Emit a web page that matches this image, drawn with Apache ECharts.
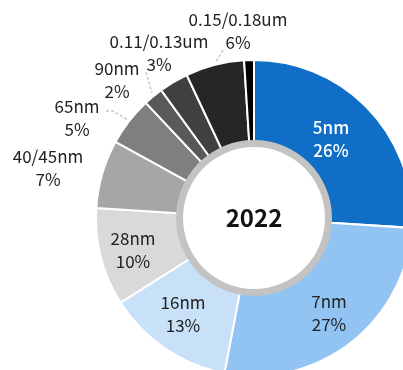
<!DOCTYPE html>
<html>
<head>
<meta charset="utf-8">
<script src="https://cdn.jsdelivr.net/npm/echarts@6/dist/echarts.min.js"></script>
<style>
  html, body { margin: 0; padding: 0; background: #fff; }
  #chart { width: 403px; height: 370px; }
</style>
</head>
<body>
<div id="chart"></div>
<script>
// process node share, 2022 (%)
const nodes = ['5nm', '7nm', '16nm', '28nm', '40/45nm', '65nm', '90nm', '0.11/0.13um', '0.15/0.18um', '']
const shares = [26, 27, 13, 10, 7, 5, 2, 3, 6, 1]
const colors = ['#106ec6', '#92c4f3', '#c8e1f9', '#d9d9d9', '#a6a6a6', '#7f7f7f', '#595959', '#404040', '#262626', '#000000']
const yearLabel = '2022'

const font = '"Noto Sans CJK KR", "Noto Sans", sans-serif'

// label placement (centre of the two-line block) and leader lines
const labelPos = {
  0: { x: 331, y: 139 },
  1: { x: 329, y: 313 },
  2: { x: 183, y: 314 },
  3: { x: 133, y: 250 },
  4: { x: 48, y: 168 },
  5: { x: 77, y: 118, line: [[106, 111], [113, 111], [128, 120]] },
  6: { x: 117, y: 80, line: [[146, 72], [152, 93]] },
  7: { x: 159, y: 53 },
  8: { x: 238, y: 31, line: [[223, 50], [216, 62]] }
}

const data = nodes.map((name, i) => {
  const item = { name, value: shares[i], itemStyle: { color: colors[i] } }
  if (i < 4) {
    item.label = {
      position: 'inside',
      color: i === 0 ? '#fff' : '#222',
      fontWeight: i === 0 ? 500 : 'normal'
    }
    item.labelLine = { show: false }
  } else if (i === 9) {
    item.label = { show: false }
    item.labelLine = { show: false }
  } else {
    item.label = { position: 'outside', color: '#222' }
    item.labelLine = { show: !!labelPos[i].line }
  }
  return item
})

const chart = echarts.init(document.getElementById('chart'))
chart.setOption({
  animation: false,
  series: [{
    type: 'pie',
    center: [254, 218],
    radius: [76, 158],
    startAngle: 90,
    clockwise: true,
    silent: true,
    itemStyle: { borderColor: '#fff', borderWidth: 2 },
    label: {
      fontFamily: font,
      fontSize: 17,
      lineHeight: 23,
      align: 'center',
      overflow: 'none',
      formatter: p => p.name + '\n' + p.value + '%'
    },
    labelLine: {
      lineStyle: { color: '#c8c8c8', width: 1.5, type: [3, 2] }
    },
    labelLayout: params => {
      const o = labelPos[params.dataIndex]
      if (!o) return {}
      const res = { x: o.x, y: o.y, align: 'center', verticalAlign: 'middle' }
      if (o.line) res.labelLinePoints = o.line
      return res
    },
    data
  }, {
    type: 'pie',
    center: [254, 218],
    radius: [71, 78],
    silent: true,
    label: {
      show: true,
      position: 'center',
      formatter: yearLabel,
      fontFamily: font,
      fontSize: 24,
      fontWeight: 'bold',
      color: '#111'
    },
    labelLine: { show: false },
    itemStyle: { color: '#c3c3c3' },
    data: [{ value: 1, name: yearLabel }]
  }]
})
</script>
</body>
</html>
